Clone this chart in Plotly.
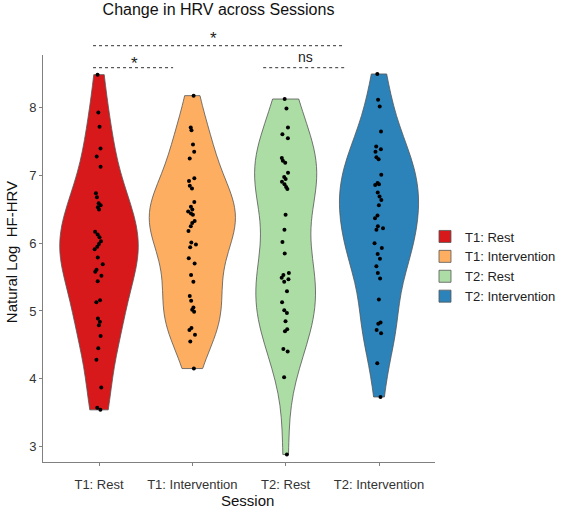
import numpy as np
import plotly.graph_objects as go

categories = ["T1: Rest", "T1: Intervention", "T2: Rest", "T2: Intervention"]
colors = ["#D7191C", "#FDAE61", "#ABDDA4", "#2B83BA"]

t1_rest = [8.49, 7.93, 7.72, 7.40, 7.28, 7.13, 6.74, 6.68, 6.59, 6.56, 6.53, 6.50,
           6.17, 6.13, 6.09, 6.03, 5.99, 5.95, 5.91, 5.79, 5.69, 5.61, 5.58, 5.52,
           5.44, 5.16, 5.13, 4.89, 4.84, 4.79, 4.63, 4.45, 4.28, 3.87, 3.57, 3.54]
t1_intervention = [8.18, 7.71, 7.67, 7.46, 7.35, 7.25, 6.96, 6.92, 6.85, 6.81, 6.61,
                   6.54, 6.50, 6.47, 6.44, 6.42, 6.33, 6.30, 6.25, 6.18, 6.01, 5.98,
                   5.94, 5.78, 5.70, 5.53, 5.43, 5.22, 5.15, 5.05, 5.02, 4.99, 4.75,
                   4.72, 4.65, 4.55, 4.15]
t2_rest = [8.13, 7.99, 7.71, 7.61, 7.55, 7.26, 7.22, 7.19, 7.04, 6.98, 6.95, 6.91,
           6.87, 6.83, 6.80, 6.42, 6.20, 6.02, 5.85, 5.56, 5.53, 5.49, 5.47, 5.43,
           5.29, 5.13, 5.01, 4.97, 4.85, 4.73, 4.70, 4.44, 4.40, 4.02, 2.88]
t2_intervention = [8.50, 8.12, 8.02, 7.65, 7.43, 7.39, 7.35, 7.27, 7.24, 7.01, 6.89,
                   6.87, 6.86, 6.75, 6.69, 6.64, 6.56, 6.41, 6.37, 6.25, 6.22, 6.20,
                   6.00, 5.93, 5.84, 5.77, 5.66, 5.56, 5.48, 5.17, 4.83, 4.81, 4.72,
                   4.67, 4.23, 3.73]
series = [t1_rest, t1_intervention, t2_rest, t2_intervention]

y_ticks = [3, 4, 5, 6, 7, 8]

# significance brackets (category-index units) and labels
bracket_x0 = [-0.064, -0.064, 1.759]
bracket_x1 = [2.617, 0.794, 2.653]
bracket_level = ["top", "low", "low"]
sig_labels = ["*", "*", "ns"]
sig_label_x = [1.223, 0.383, 2.217]

FONT = "Liberation Sans, Arial, Helvetica, sans-serif"


def nrd0(v):
    v = np.asarray(v, dtype=float)
    sd = v.std(ddof=1)
    q75, q25 = np.percentile(v, [75, 25])
    lo = min(sd, (q75 - q25) / 1.34)
    return 0.9 * lo * len(v) ** (-0.2)


fig = go.Figure()
for cat, vals, col in zip(categories, series, colors):
    fig.add_trace(go.Violin(
        x=[cat] * len(vals), y=vals, name=cat,
        fillcolor=col, opacity=1,
        line=dict(color="#555555", width=0.8),
        spanmode="hard", bandwidth=nrd0(vals),
        scalegroup="all", scalemode="width",
        points="all", pointpos=0, jitter=0.12,
        marker=dict(color="black", size=4, line=dict(width=0)),
        box_visible=False, meanline_visible=False,
        hoverinfo="y",
    ))

L, R, T, B = 43.3, 435.0, 55.0, 462.0
W, H = 566, 512
pw, ph = R - L, B - T
xr = (-0.6, 3.6)


def xp(x):
    return (x - xr[0]) / (xr[1] - xr[0])


def yp(py):
    return (B - py) / ph


shapes = []
for x0, x1, lev in zip(bracket_x0, bracket_x1, bracket_level):
    yy = yp(45.7) if lev == "top" else yp(67.7)
    shapes.append(dict(type="line", xref="paper", yref="paper",
                       x0=xp(x0), x1=xp(x1), y0=yy, y1=yy,
                       line=dict(color="#333333", width=1, dash="dot")))

annotations = []
for lab, lx, lev in zip(sig_labels, sig_label_x, bracket_level):
    if lab == "ns":
        yy, fs = yp(57.5), 14
    else:
        yy, fs = (yp(38.7) if lev == "top" else yp(63.7)), 17
    annotations.append(dict(text=lab, x=xp(lx), y=yy, xref="paper", yref="paper",
                            showarrow=False, xanchor="center", yanchor="middle",
                            font=dict(family=FONT, size=fs, color="#222222")))

annotations.append(dict(text="Natural Log\u00a0 HF-HRV", xref="paper", yref="paper",
                        x=(12.5 - L) / pw, y=yp(252), textangle=-90, showarrow=False,
                        xanchor="center", yanchor="middle",
                        font=dict(family=FONT, size=15, color="#111111")))
annotations.append(dict(text="Session", xref="paper", yref="paper",
                        x=(247.5 - L) / pw, y=yp(500), showarrow=False,
                        xanchor="center", yanchor="middle",
                        font=dict(family=FONT, size=15, color="#111111")))

fig.update_layout(
    width=W, height=H,
    margin=dict(l=L, r=W - R, t=T, b=H - B, pad=0, autoexpand=False),
    paper_bgcolor="white", plot_bgcolor="white",
    violinmode="overlay", violingap=0.08, violingroupgap=0,
    title=dict(text="Change in HRV across Sessions", x=218.5 / W, xanchor="center",
               y=1 - 9 / H, yanchor="middle",
               font=dict(family=FONT, size=16, color="#111111")),
    font=dict(family=FONT, size=13, color="#333333"),
    showlegend=True,
    legend=dict(x=(425 - L) / pw, xanchor="left", y=yp(266.5), yanchor="middle",
                bgcolor="rgba(0,0,0,0)", tracegroupgap=0,
                font=dict(family=FONT, size=13, color="#222222")),
    shapes=shapes, annotations=annotations,
)
fig.update_xaxes(type="category", categoryorder="array", categoryarray=categories,
                 range=list(xr), showline=True, linecolor="#808080", linewidth=1,
                 ticks="outside", ticklen=3, tickcolor="#808080", showgrid=False,
                 zeroline=False, ticklabelstandoff=7,
                 tickfont=dict(family=FONT, size=13, color="#333333"))
fig.update_yaxes(range=[2.77, 8.78], tickvals=y_ticks, showline=True,
                 linecolor="#808080", linewidth=1, ticks="outside", ticklen=3,
                 tickcolor="#808080", showgrid=False, zeroline=False,
                 tickfont=dict(family=FONT, size=13, color="#333333"))

fig.write_html("out.html", config={"displayModeBar": False},
               post_script="document.body.style.margin='0';document.body.style.padding='0';")
